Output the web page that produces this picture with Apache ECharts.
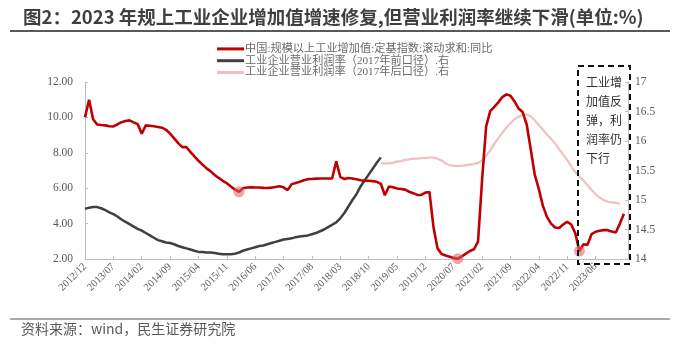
<!DOCTYPE html>
<html>
<head>
<meta charset="utf-8">
<script src="https://cdn.jsdelivr.net/npm/echarts@6/dist/echarts.min.js"></script>
<style>
  html, body { margin: 0; padding: 0; background: #fff; }
  #chart { width: 680px; height: 346px; }
</style>
</head>
<body>
<div id="chart"></div>
<script>
// Monthly categories, 2012/12 to 2024/02
const startYear = 2012, startMonth = 12, monthCount = 135;
const months = [];
for (let i = 0; i < monthCount; i++) {
  const m0 = startMonth - 1 + i;
  const y = startYear + Math.floor(m0 / 12);
  const m = (m0 % 12) + 1;
  months.push(y + '/' + (m < 10 ? '0' + m : m));
}

// 中国:规模以上工业增加值:定基指数:滚动求和:同比 (left axis, %)
const valueAddedYoY = [
  10.0, 11.0, 9.9, 9.6, 9.57, 9.55, 9.5, 9.49, 9.6, 9.73,
  9.8, 9.83, 9.72, 9.62, 9.08, 9.55, 9.53, 9.5, 9.46, 9.42,
  9.3, 9.08, 8.82, 8.55, 8.32, 8.33, 8.05, 7.8, 7.55, 7.33,
  7.12, 6.95, 6.75, 6.58, 6.42, 6.28, 6.1, 5.92, 5.8, 6.0,
  6.04, 6.05, 6.04, 6.04, 6.02, 6.01, 6.03, 6.07, 6.11, 6.05,
  5.89, 6.23, 6.3, 6.36, 6.45, 6.51, 6.52, 6.54, 6.55, 6.55,
  6.55, 6.55, 7.52, 6.64, 6.52, 6.58, 6.55, 6.5, 6.45, 6.43,
  6.42, 6.4, 6.36, 6.25, 5.6, 6.1, 6.05, 5.98, 5.95, 5.92,
  5.8, 5.72, 5.62, 5.62, 5.75, 5.79, 3.8, 2.6, 2.28, 2.2,
  2.13, 2.05, 2.02, 2.15, 2.3, 2.45, 2.55, 3.0, 6.5, 9.5,
  10.35, 10.6, 10.85, 11.15, 11.3, 11.22, 10.9, 10.5, 10.3, 9.6,
  8.2, 6.75, 5.95, 5.0, 4.38, 4.0, 3.78, 3.75, 3.95, 4.1,
  3.95, 3.45, 2.45, 2.83, 2.8, 3.4, 3.54, 3.6, 3.63, 3.63,
  3.56, 3.5, 4.0, 4.55
];

// 工业企业营业利润率（2017年前口径）, right axis, from 2012/12
const marginOld = [
  14.85, 14.87, 14.88, 14.88, 14.86, 14.83, 14.79, 14.76, 14.72, 14.67,
  14.63, 14.59, 14.55, 14.51, 14.48, 14.44, 14.4, 14.36, 14.32, 14.3,
  14.28, 14.27, 14.25, 14.22, 14.2, 14.18, 14.16, 14.14, 14.12, 14.12,
  14.11, 14.11, 14.1, 14.09, 14.08, 14.08, 14.08, 14.09, 14.11, 14.14,
  14.16, 14.18, 14.2, 14.22, 14.23, 14.25, 14.27, 14.29, 14.31, 14.33,
  14.34, 14.35, 14.37, 14.38, 14.39, 14.4, 14.42, 14.44, 14.47, 14.5,
  14.54, 14.58, 14.62, 14.69, 14.78, 14.89, 15.0, 15.1, 15.23, 15.33,
  15.43, 15.53, 15.63, 15.72
];

// 工业企业营业利润率（2017年后口径）, right axis, from 2019/01
const marginNewStart = 73;
const marginNew = [
  15.62, 15.62, 15.62, 15.63, 15.65, 15.66, 15.68, 15.69, 15.7, 15.7,
  15.71, 15.71, 15.72, 15.72, 15.7, 15.67, 15.62, 15.59, 15.58, 15.58,
  15.58, 15.59, 15.6, 15.61, 15.63, 15.67, 15.75, 15.84, 15.95, 16.05,
  16.14, 16.23, 16.3, 16.37, 16.41, 16.44, 16.45, 16.42, 16.35, 16.27,
  16.19, 16.11, 16.04, 15.96, 15.86, 15.77, 15.68, 15.57, 15.47, 15.4,
  15.33, 15.25, 15.17, 15.1, 15.04, 15.0, 14.97, 14.96, 14.95, 14.94
];

// Troughs of the value-added series, highlighted with dots
const troughIdx = [38, 92, 122];

const seriesNames = [
  '中国:规模以上工业增加值:定基指数:滚动求和:同比',
  '工业企业营业利润率（2017年前口径）.右',
  '工业企业营业利润率（2017年后口径）.右'
];
const leftTicks = { min: 2, max: 12, interval: 2 };
const rightTicks = { min: 14, max: 17, interval: 0.5 };
const labelEvery = 7, lastLabelIdx = 126;
const boxNote = '工业增\n加值反\n弹，利\n润率仍\n下行';

const newPadded = months.map((_, i) =>
  i >= marginNewStart && i - marginNewStart < marginNew.length ? marginNew[i - marginNewStart] : null);
const oldPadded = months.map((_, i) => i < marginOld.length ? marginOld[i] : null);
const troughPts = troughIdx.map(i => [months[i], valueAddedYoY[i]]);

const serif = "'Liberation Serif','Times New Roman',serif";
const mixed = "'Liberation Serif','Noto Sans CJK SC',serif";
const sans = "'Noto Sans CJK SC','Noto Sans',sans-serif";
const axisGray = '#bfbfbf';
const textGray = '#595959';

const showTick = (i) => i % labelEvery === 0 && i <= lastLabelIdx;

const chart = echarts.init(document.getElementById('chart'), null, { renderer: 'canvas' });
chart.setOption({
  animation: false,
  backgroundColor: '#fff',
  title: {
    text: '图2：2023 年规上工业企业增加值增速修复,但营业利润率继续下滑(单位:%)',
    left: 18, top: 3,
    textStyle: { fontFamily: sans, fontWeight: 'bold', fontSize: 18.5, color: '#3f3f3f' }
  },
  legend: {
    orient: 'vertical',
    left: 217, top: 43, padding: 0,
    itemWidth: 27, itemHeight: 3, itemGap: 0,
    icon: 'rect',
    textStyle: { fontFamily: mixed, fontSize: 11.2, color: '#6a6a6a', lineHeight: 11.8, padding: [0, 0, 0, -4] },
    data: seriesNames
  },
  grid: { left: 85, right: 52, top: 82, bottom: 87, containLabel: false },
  xAxis: {
    type: 'category',
    data: months,
    boundaryGap: false,
    axisLine: { lineStyle: { color: axisGray, width: 1 } },
    axisTick: { inside: true, length: 3, interval: showTick, lineStyle: { color: axisGray } },
    axisLabel: {
      interval: showTick, rotate: 45, margin: 6,
      fontFamily: serif, fontSize: 10.5, color: textGray
    },
    splitLine: { show: false }
  },
  yAxis: [
    {
      type: 'value', position: 'left',
      min: leftTicks.min, max: leftTicks.max, interval: leftTicks.interval,
      axisLine: { show: true, lineStyle: { color: axisGray } },
      axisTick: { show: true, inside: true, length: 3, lineStyle: { color: axisGray } },
      axisLabel: { formatter: v => v.toFixed(2), fontFamily: serif, fontSize: 11.5, color: textGray, margin: 12 },
      splitLine: { show: false }
    },
    {
      type: 'value', position: 'right',
      min: rightTicks.min, max: rightTicks.max, interval: rightTicks.interval,
      axisLine: { show: true, lineStyle: { color: axisGray } },
      axisTick: { show: true, inside: true, length: 3, lineStyle: { color: axisGray } },
      axisLabel: { formatter: v => String(v), fontFamily: serif, fontSize: 11.5, color: textGray, margin: 7 },
      splitLine: { show: false }
    }
  ],
  series: [
    {
      name: seriesNames[0], type: 'line', yAxisIndex: 0,
      data: valueAddedYoY, showSymbol: false, symbol: 'none',
      lineStyle: { color: '#c00000', width: 2.6 }, itemStyle: { color: '#c00000' }, z: 4
    },
    {
      name: seriesNames[1], type: 'line', yAxisIndex: 1,
      data: oldPadded, showSymbol: false, symbol: 'none', connectNulls: false,
      lineStyle: { color: '#404040', width: 2.5 }, itemStyle: { color: '#404040' }, z: 3
    },
    {
      name: seriesNames[2], type: 'line', yAxisIndex: 1,
      data: newPadded, showSymbol: false, symbol: 'none', connectNulls: false,
      lineStyle: { color: '#f0c0c0', width: 2.2 }, itemStyle: { color: '#f0c0c0' }, z: 2
    },
    {
      name: 'trough', type: 'scatter', yAxisIndex: 0,
      data: troughPts, symbolSize: 11,
      itemStyle: { color: 'rgba(222,96,96,0.7)' }, z: 5
    }
  ],
  graphic: [
    { type: 'line', shape: { x1: 10, y1: 31, x2: 670, y2: 31 }, style: { stroke: '#595959', lineWidth: 2 } },
    { type: 'line', shape: { x1: 10, y1: 319, x2: 670, y2: 319 }, style: { stroke: '#8c8c8c', lineWidth: 1.5 } },
    {
      type: 'text', left: 21, top: 322,
      style: { text: '资料来源：wind，民生证券研究院', font: "14px 'Noto Sans CJK SC', sans-serif", fill: textGray }
    },
    {
      type: 'rect', shape: { x: 578, y: 66, width: 52, height: 198 },
      style: { fill: 'none', stroke: '#111', lineWidth: 2, lineDash: [6, 4] }, z: 10
    },
    {
      type: 'text', left: 586, top: 73,
      style: { text: boxNote, font: "12px 'Noto Sans CJK SC', sans-serif", fill: '#333', lineHeight: 19 }, z: 10
    }
  ]
});
</script>
</body>
</html>
